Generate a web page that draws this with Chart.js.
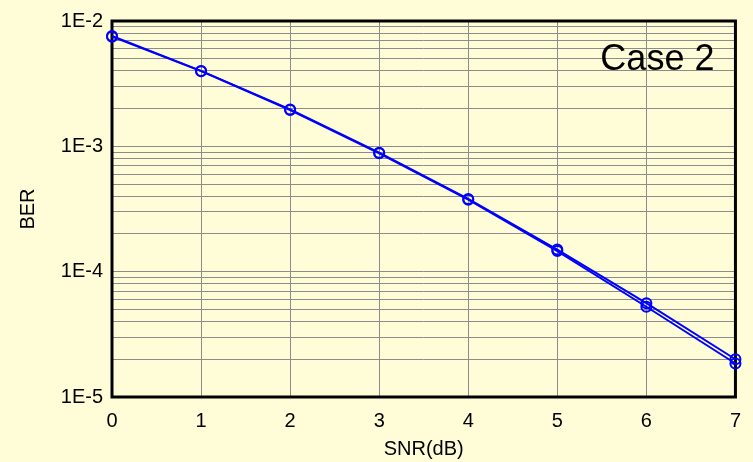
<!DOCTYPE html>
<html>
<head>
<meta charset="utf-8">
<script src="https://cdn.jsdelivr.net/npm/chart.js@4/dist/chart.umd.min.js"></script>
<style>
  html, body { margin: 0; padding: 0; background: #FFFDD8; }
  #wrap { width: 753px; height: 462px; position: relative; }
</style>
</head>
<body>
<div id="wrap"><canvas id="c" width="753" height="462"></canvas></div>
<script>
const snr = [0, 1, 2, 3, 4, 5, 6, 7];
const berA = [7.6e-3, 4.0e-3, 1.97e-3, 8.9e-4, 3.8e-4, 1.5e-4, 5.6e-5, 2.0e-5];
const berB = [7.5e-3, 3.98e-3, 1.95e-3, 8.8e-4, 3.75e-4, 1.46e-4, 5.25e-5, 1.85e-5];
const yDecades = [-5, -4, -3, -2];
const yTickLabels = ['1E-5', '1E-4', '1E-3', '1E-2'];
const xTickLabels = ['0', '1', '2', '3', '4', '5', '6', '7'];
const caseLabel = 'Case 2';
const xTitle = 'SNR(dB)';
const yTitle = 'BER';

const FONT = "'Liberation Sans', Arial, sans-serif";

const yTickValues = [];
yDecades.forEach((e, i) => {
  if (i < yDecades.length - 1) {
    for (let m = 1; m <= 9; m++) yTickValues.push(m * Math.pow(10, e));
  } else {
    yTickValues.push(Math.pow(10, e));
  }
});

const framePlugin = {
  id: 'frame',
  beforeDatasetsDraw(chart) {
    const {ctx, chartArea: a} = chart;
    ctx.save();
    ctx.strokeStyle = '#000';
    ctx.lineWidth = 3;
    ctx.strokeRect(a.left, a.top, a.right - a.left, a.bottom - a.top);
    ctx.restore();
  },
  afterDraw(chart) {
    const {ctx, chartArea: a} = chart;
    ctx.save();
    ctx.fillStyle = '#000';
    ctx.font = '36px ' + FONT;
    ctx.textAlign = 'right';
    ctx.textBaseline = 'alphabetic';
    ctx.fillText(caseLabel, a.right - 21, a.top + 49);
    ctx.restore();
  }
};

const mk = (data) => ({
  data: snr.map((x, i) => ({x, y: data[i]})),
  borderColor: '#0000FF',
  backgroundColor: 'rgba(0,0,0,0)',
  borderWidth: 2,
  pointRadius: 5,
  pointHoverRadius: 5,
  pointBorderWidth: 2,
  pointBorderColor: '#0000FF',
  pointBackgroundColor: 'rgba(0,0,0,0)',
  pointStyle: 'circle',
  tension: 0,
  clip: false
});

new Chart(document.getElementById('c'), {
  type: 'line',
  data: { datasets: [mk(berA), mk(berB)] },
  plugins: [framePlugin],
  options: {
    responsive: false,
    animation: false,
    events: [],
    layout: { padding: { left: 0, right: 10, top: 18, bottom: 0 } },
    plugins: { legend: { display: false }, tooltip: { enabled: false } },
    scales: {
      x: {
        type: 'linear',
        min: 0, max: 7,
        afterFit(s) { s.height = 65; },
        afterBuildTicks(s) { s.ticks = snr.map(v => ({value: v})); },
        ticks: {
          color: '#000',
          font: { family: FONT, size: 20 },
          padding: 12,
          callback: (v, i) => xTickLabels[i]
        },
        grid: { color: '#8c8c8c', lineWidth: 1, drawTicks: false },
        border: { display: false },
        title: {
          display: true, text: xTitle, color: '#000',
          font: { family: FONT, size: 20 },
          padding: { top: 0, bottom: 1 }
        }
      },
      y: {
        type: 'logarithmic',
        min: 1e-5, max: 1e-2,
        afterFit(s) { s.width = 112; },
        afterBuildTicks(s) { s.ticks = yTickValues.map(v => ({value: v})); },
        ticks: {
          color: '#000',
          font: { family: FONT, size: 20 },
          padding: 9,
          autoSkip: false,
          callback: (v) => {
            const e = Math.round(Math.log10(v));
            const idx = yDecades.indexOf(e);
            return (Math.abs(v - Math.pow(10, e)) < 1e-12 && idx >= 0) ? yTickLabels[idx] : '';
          }
        },
        grid: { color: '#8c8c8c', lineWidth: 1, drawTicks: false },
        border: { display: false },
        title: {
          display: true, text: yTitle, color: '#000',
          font: { family: FONT, size: 20 },
          padding: { top: 16, bottom: 0 }
        }
      }
    }
  }
});
</script>
</body>
</html>
